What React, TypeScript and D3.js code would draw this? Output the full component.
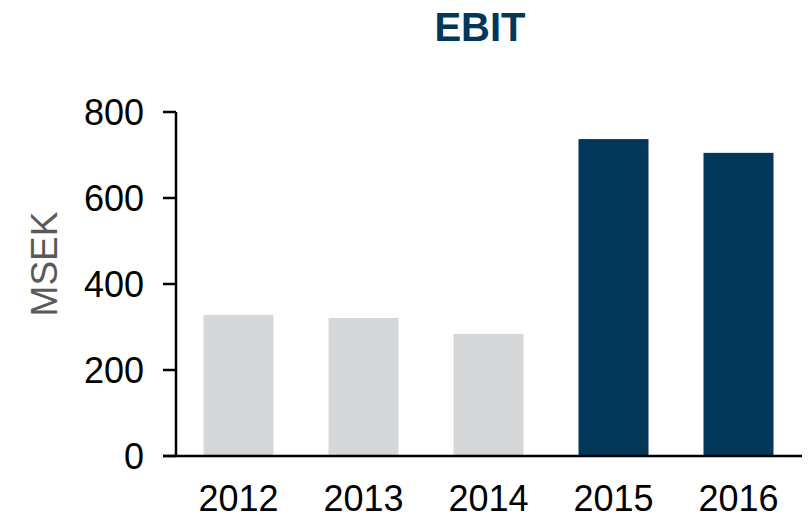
import * as d3 from 'd3';

const years = ['2012', '2013', '2014', '2015', '2016'];
const ebit = [328, 321, 284, 737, 705];
const highlightYears = ['2015', '2016'];
const yTicks = [0, 200, 400, 600, 800];

const GREY = '#d6d7d9';
const NAVY = '#033759';
const FONT = "'Liberation Sans', Arial, sans-serif";

export default function App() {
  const width = 808;
  const height = 518;
  const margin = { top: 112, right: 7, bottom: 62, left: 176 };

  const x = d3
    .scaleBand<string>()
    .domain(years)
    .range([margin.left, width - margin.right])
    .paddingInner(0.44)
    .paddingOuter(0.22);

  const y = d3
    .scaleLinear()
    .domain([0, 800])
    .range([height - margin.bottom, margin.top]);

  const y0 = y(0);

  return (
    <svg
      width={width}
      height={height}
      style={{ position: 'absolute', left: 0, top: 0, fontFamily: FONT }}
    >
      <text
        x={480}
        y={41}
        textAnchor="middle"
        fontSize={40}
        fontWeight="bold"
        fill={NAVY}
      >
        EBIT
      </text>

      {/* bars */}
      {years.map((yr, i) => (
        <rect
          key={yr}
          x={x(yr)}
          y={y(ebit[i])}
          width={x.bandwidth()}
          height={y0 - y(ebit[i])}
          fill={highlightYears.includes(yr) ? NAVY : GREY}
        />
      ))}

      {/* y axis */}
      <line
        x1={margin.left}
        x2={margin.left}
        y1={y(800)}
        y2={y0}
        stroke="#000"
        strokeWidth={2.5}
      />
      {yTicks.map((t) => (
        <g key={t}>
          <line
            x1={margin.left - 13}
            x2={margin.left}
            y1={y(t)}
            y2={y(t)}
            stroke="#000"
            strokeWidth={2.5}
          />
          <text
            x={margin.left - 32}
            y={y(t)}
            dy="0.35em"
            textAnchor="end"
            fontSize={36}
            fill="#000"
          >
            {t}
          </text>
        </g>
      ))}

      {/* x axis */}
      <line
        x1={margin.left - 13}
        x2={width - margin.right + 1}
        y1={y0}
        y2={y0}
        stroke="#000"
        strokeWidth={2.5}
      />
      {years.map((yr) => (
        <text
          key={yr}
          x={(x(yr) ?? 0) + x.bandwidth() / 2}
          y={511}
          textAnchor="middle"
          fontSize={36}
          fill="#000"
        >
          {yr}
        </text>
      ))}

      <text
        transform="translate(57,264) rotate(-90)"
        textAnchor="middle"
        fontSize={37}
        fill="#595959"
      >
        MSEK
      </text>
    </svg>
  );
}
